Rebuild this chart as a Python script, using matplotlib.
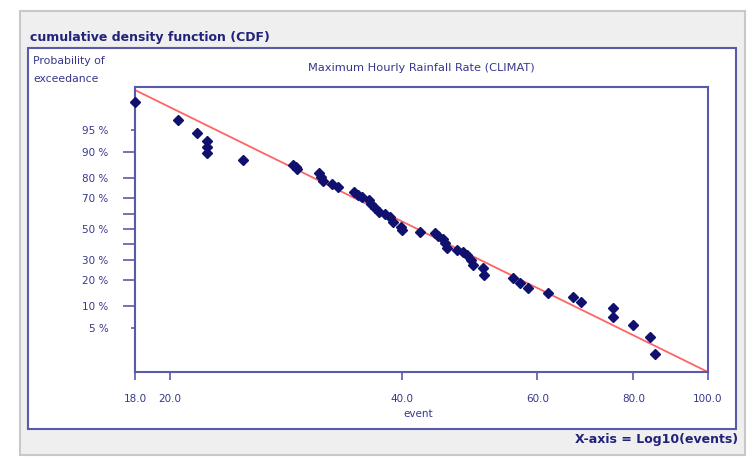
import numpy as np
import matplotlib
matplotlib.use('Agg')
import matplotlib.pyplot as plt
from matplotlib.patches import Rectangle
from statistics import NormalDist

# data (event value, probability of exceedance)
events = [18.0, 20.5, 21.7, 22.3, 22.3, 22.3, 24.9, 28.9, 29.1, 29.2,
          31.2, 31.4, 31.6, 32.5, 33.0, 34.7, 35.1, 35.5, 36.3, 36.5,
          36.9, 37.4, 38.0, 38.6, 38.9, 39.9, 40.0, 42.2, 44.2, 44.6,
          45.2, 45.5, 45.8, 47.2, 48.1, 48.6, 49.2, 49.5, 51.0, 51.2,
          55.8, 57.0, 58.3, 62.0, 66.7, 68.4, 75.2, 75.2, 79.8, 84.0, 85.4]
prob_exc = [0.983, 0.965, 0.946, 0.929, 0.915, 0.896, 0.875, 0.857, 0.848, 0.841,
            0.823, 0.808, 0.790, 0.772, 0.756, 0.733, 0.714, 0.701, 0.685, 0.660,
            0.635, 0.613, 0.599, 0.581, 0.548, 0.515, 0.493, 0.480, 0.471, 0.453,
            0.432, 0.406, 0.374, 0.362, 0.353, 0.332, 0.303, 0.274, 0.256, 0.222,
            0.206, 0.183, 0.164, 0.142, 0.1275, 0.111, 0.093, 0.072, 0.0548, 0.0363, 0.0186]

# fitted line end points
fit_events = [18.0, 100.0]
fit_prob = [0.9897, 0.0086]

xtick_vals = [18, 20, 40, 60, 80, 100]
xtick_labels = ['18.0', '20.0', '40.0', '60.0', '80.0', '100.0']
ytick_vals = [0.95, 0.90, 0.80, 0.70, 0.60, 0.50, 0.40, 0.30, 0.20, 0.10, 0.05]
ytick_labels = ['95 %', '90 %', '80 %', '70 %', '', '50 %', '', '30 %', '20 %', '10 %', '5 %']

nd = NormalDist()
_ppf = np.vectorize(nd.inv_cdf, otypes=[float])
_cdf = np.vectorize(nd.cdf, otypes=[float])


def fwd(p):
    p = np.clip(np.asarray(p, dtype=float), 1e-9, 1 - 1e-9)
    return _ppf(p)


def inv(z):
    return _cdf(np.asarray(z, dtype=float))


plt.rcParams['font.family'] = ['DejaVu Sans']

W, H = 753, 458
fig = plt.figure(figsize=(W / 100, H / 100), dpi=100)
fig.patch.set_facecolor('white')


def fx(x):
    return x / W


def fy(y):
    return 1 - y / H


navy = '#5a5aaa'
txt = '#36368c'

# grey panel and white box (behind the axes)
fig.add_artist(Rectangle((fx(20), fy(455)), fx(725), 444 / H, transform=fig.transFigure,
                         facecolor='#efefef', edgecolor='#c8c8c8', lw=1.5, zorder=-2))
fig.add_artist(Rectangle((fx(28), fy(429)), fx(708), 381 / H, transform=fig.transFigure,
                         facecolor='white', edgecolor=navy, lw=1.5, zorder=-1))

fig.text(fx(30), fy(38), 'cumulative density function (CDF)', fontsize=9, fontweight='bold',
         color='#22227a', va='center', ha='left')
fig.text(fx(33), fy(61), 'Probability of', fontsize=7.8, color=txt, va='center', ha='left')
fig.text(fx(33), fy(79), 'exceedance', fontsize=7.8, color=txt, va='center', ha='left')
fig.text(fx(421), fy(68), 'Maximum Hourly Rainfall Rate (CLIMAT)', fontsize=8.2, color=txt,
         va='center', ha='center')
fig.text(fx(738), fy(440), 'X-axis = Log10(events)', fontsize=9, fontweight='bold',
         color='#22227a', va='center', ha='right')

ax = fig.add_axes([fx(135), fy(372), (708 - 135) / W, (372 - 87) / H])
ax.set_xscale('log')
ax.set_yscale('function', functions=(fwd, inv))
ax.set_xlim(18, 100)
ax.set_ylim(0.0086, 0.991)

ax.plot(fit_events, fit_prob, color='#ff6464', lw=1.3, zorder=2)
ax.plot(events, prob_exc, 'D', color='#10106e', markersize=5, zorder=3, clip_on=False)

ax.set_xticks(xtick_vals)
ax.set_xticklabels(xtick_labels)
ax.xaxis.set_minor_locator(matplotlib.ticker.NullLocator())
ax.set_yticks(ytick_vals)
ax.set_yticklabels(ytick_labels)
ax.yaxis.set_minor_locator(matplotlib.ticker.NullLocator())

ax.tick_params(axis='y', direction='out', length=9, width=1.2, color=navy, pad=10,
               labelsize=7.5, labelcolor=txt)
ax.tick_params(axis='x', direction='out', length=6, width=1.2, color=navy, pad=10,
               labelsize=7.5, labelcolor=txt)
for i, t in enumerate(ax.yaxis.get_major_ticks()):
    if ytick_vals[i] in (0.95, 0.05):
        t.tick1line.set_markersize(3)

for s in ax.spines.values():
    s.set_color(navy)
    s.set_linewidth(1.5)

fig.text(fx(418), fy(414), 'event', fontsize=7.5, color=txt, ha='center', va='center')

fig.savefig('out.png', dpi=100)
